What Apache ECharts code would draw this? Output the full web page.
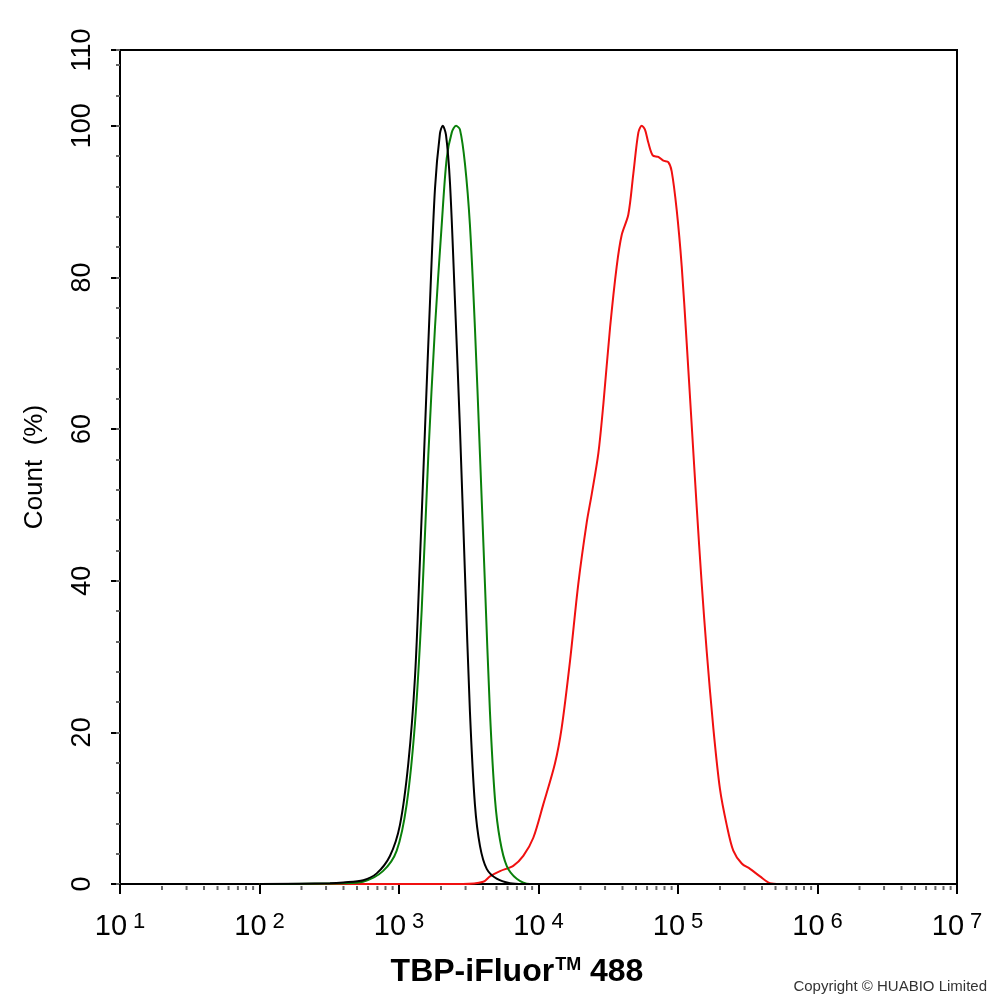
<!doctype html>
<html>
<head>
<meta charset="UTF-8">
<title>TBP-iFluor 488</title>
<script src="https://cdn.jsdelivr.net/npm/echarts@6/dist/echarts.min.js"></script>
<style>
	html, body { margin: 0; padding: 0; background: #fff; }
	#main { width: 994px; height: 1002px; }
</style>
</head>
<body>
<div id="main"></div>
<script>
// intensity (x) / count % (y)
var blackX = [100, 320, 399, 555, 692, 861, 1016, 1166, 1303, 1415, 1536, 1668, 1811, 1966, 2056, 2172, 2321, 2520, 2736, 2970, 3225, 3501, 3808, 4254, 5012, 6247, 7745, 1e7];
var blackY = [0, 0.1, 0.2, 0.5, 1.4, 3.7, 7.8, 15.9, 27.4, 43, 60, 76.8, 91.7, 99, 100, 98.8, 92.4, 76.8, 60, 41, 22.7, 10.5, 5, 2, 0.7, 0.1, 0, 0];

var greenX = [100, 400, 552, 767, 963, 1135, 1303, 1455, 1622, 1811, 2023, 2198, 2388, 2564, 2736, 2970, 3225, 3501, 3808, 4131, 4487, 4875, 5297, 5915, 6982, 8690, 1e7];
var greenY = [0, 0.1, 0.3, 1.7, 4.4, 10.5, 21.3, 36.2, 56.5, 73.4, 86.9, 95.7, 99.1, 100, 99.5, 95, 86.9, 73.4, 56.5, 39.6, 22.7, 11.2, 5.8, 2.4, 0.7, 0, 0];

var redX = [100, 2878, 4018, 4487, 5297, 6592, 7780, 9180, 10820, 13120, 14660, 16820, 19290, 22170, 24060, 26850, 29170, 32590, 36380, 39480, 44050, 47850, 51970, 54950, 57980, 61240, 65860, 72220, 78480, 85170, 90120, 97870, 106300, 115400, 125400, 136200, 147900, 160600, 179100, 200000, 223400, 249100, 286300, 328300, 387100, 456300, 538300, 1e7];
var redY = [0, 0, 0.3, 1.0, 1.7, 2.4, 3.7, 6.1, 10.5, 15.9, 20.6, 29.4, 39.6, 47.7, 51.4, 56.8, 63.3, 73.4, 81.5, 85.6, 88.3, 93.7, 99.1, 100, 99.5, 97.8, 96.1, 95.9, 95.4, 95.2, 94, 88.9, 81.5, 71.4, 60.5, 49.7, 39.6, 30.7, 20.6, 12.5, 7.8, 4.4, 2.7, 2.0, 1.0, 0.1, 0, 0];

var yName = 'Count  (%)';
var yTicks = [0, 20, 40, 60, 80, 100, 110];

// minor ticks of the log axis: 2..9 in every decade
var minorX = [];
for (var d = 1; d < 7; d++) {
	for (var m = 2; m <= 9; m++) minorX.push(m * Math.pow(10, d));
}

function pairs(xs, ys) {
	var out = [];
	for (var i = 0; i < xs.length; i++) out.push([xs[i], ys[i]]);
	return out;
}

var font = '"Liberation Sans", Arial, sans-serif';
var myChart = echarts.init(document.getElementById('main'));

var option = {
	animation: false,
	backgroundColor: '#fff',
	textStyle: { fontFamily: font },
	title: {
		text: 'Copyright \u00a9 HUABIO Limited',
		right: 2, bottom: 3,
		textStyle: { fontSize: 15, fontWeight: 'normal', color: '#333', fontFamily: font }
	},
	grid: {
		left: 120, right: 37, top: 50, bottom: 118,
		show: true, borderColor: '#000', borderWidth: 2, backgroundColor: 'transparent'
	},
	xAxis: {
		type: 'log', logBase: 10, min: 10, max: 1e7,
		name: '{a|TBP-iFluor}{t|TM}{a| 488}', nameLocation: 'middle', nameGap: 70,
		nameTextStyle: {
			color: '#000', padding: [0, 43, 0, 0],
			rich: {
				a: { fontSize: 32, lineHeight: 36, fontWeight: 'bold', fontFamily: font, color: '#000' },
				t: { fontSize: 18, lineHeight: 20, fontWeight: 'bold', verticalAlign: 'top', padding: [2, 0, 0, 1], fontFamily: font, color: '#000' }
			}
		},
		axisLine: { lineStyle: { color: '#000', width: 2 } },
		axisTick: { inside: false, length: 10, lineStyle: { color: '#000', width: 2 } },
		splitLine: { show: false },
		axisLabel: {
			margin: 27, color: '#000',
			formatter: function (v) {
				return '{b|10}{s|' + Math.round(Math.log10(v)) + '}';
			},
			rich: {
				b: { fontSize: 29, lineHeight: 32, fontFamily: font, color: '#000' },
				s: { fontSize: 22, lineHeight: 22, verticalAlign: 'top', padding: [0, 0, 0, 6], fontFamily: font, color: '#000' }
			}
		}
	},
	yAxis: [{
		type: 'value', min: 0, max: 110, interval: 20,
		name: yName, nameLocation: 'middle', nameGap: 72, nameRotate: 90,
		nameTextStyle: { fontSize: 26, color: '#000', fontFamily: font },
		axisLine: { show: true, lineStyle: { color: '#000', width: 2 } },
		axisTick: { show: true, inside: false, length: 9, lineStyle: { color: '#000', width: 2 } },
		splitLine: { show: false },
		axisLabel: { rotate: 90, margin: 24, fontSize: 27, color: '#000', fontFamily: font,
			formatter: function (v) { return yTicks.indexOf(v) >= 0 ? String(v) : ''; } }
	}, {
		// minor ticks every 4 units
		type: 'value', min: 0, max: 110, interval: 4, position: 'left',
		axisLine: { show: false },
		axisTick: { show: true, inside: false, length: 4, lineStyle: { color: '#666', width: 2 } },
		axisLabel: { show: false },
		splitLine: { show: false }
	}],
	series: [
		{
			type: 'custom', silent: true, clip: false,
			data: minorX,
			encode: { x: 0 },
			renderItem: function (params, api) {
				var p = api.coord([api.value(0), 0]);
				return {
					type: 'line',
					shape: { x1: p[0], y1: p[1] + 2, x2: p[0], y2: p[1] + 6 },
					style: { stroke: '#666', lineWidth: 2 }
				};
			}
		},
		{ type: 'line', data: pairs(redX, redY), showSymbol: false, smooth: 0.3,
			lineStyle: { color: '#f01010', width: 2 }, itemStyle: { color: '#f01010' } },
		{ type: 'line', data: pairs(greenX, greenY), showSymbol: false, smooth: 0.3,
			lineStyle: { color: '#0a800a', width: 2 }, itemStyle: { color: '#0a800a' } },
		{ type: 'line', data: pairs(blackX, blackY), showSymbol: false, smooth: 0.3,
			lineStyle: { color: '#000', width: 2 }, itemStyle: { color: '#000' } }
	]
};
myChart.setOption(option);
</script>
</body>
</html>
